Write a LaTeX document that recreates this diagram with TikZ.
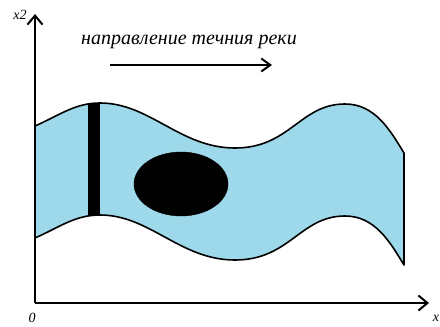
\documentclass[tikz,border=0pt]{standalone}
\usepackage{fontspec}
\setmainfont{Liberation Serif}
\usepackage{tikz}
\usetikzlibrary{arrows.meta,shapes.geometric}
\definecolor{riverblue}{RGB}{157,217,234}
\tikzset{
  axis/.style     = {-{Straight Barb[length=9pt,width=15pt,line width=2pt]}, line width=2pt},
  flowarrow/.style= {-{Straight Barb[length=9pt,width=13pt,line width=2pt]}, line width=2pt},
  river/.style    = {fill=riverblue, draw=black, line width=1.6pt, line join=round},
  axlab/.style    = {font=\fontsize{14}{16}\selectfont\itshape, inner sep=0pt},
  flowlab/.style  = {font=\fontsize{20}{24}\selectfont\itshape, inner sep=0pt},
  blob/.style     = {ellipse, fill=black, draw=black, minimum width=94pt,
                     minimum height=64pt, inner sep=0pt},
  dam/.style      = {rectangle, fill=black, minimum width=12pt,
                     minimum height=112pt, inner sep=0pt},
}

\begin{document}
\begin{tikzpicture}[x=1pt,y=-1pt]
\useasboundingbox (0,0) rectangle (440,327);
% river band
\draw[river] (35,126) .. controls (60,115) and (75,103) .. (100,103)
  .. controls (150,103) and (180,148) .. (235,148)
  .. controls (290,148) and (300,104) .. (345,104)
  .. controls (375,104) and (390,130) .. (404,153)
  -- (404,265)
  .. controls (390,242) and (375,216) .. (345,216)
  .. controls (300,216) and (290,260) .. (235,260)
  .. controls (180,260) and (150,215) .. (100,215)
  .. controls (75,215) and (60,227) .. (35,238) -- cycle;
\node[dam]  (barrier)  at (94,159) {};
\node[blob] (obstacle) at (181,184) {};
% axes
\coordinate (O)    at (35,303);
\coordinate (ytip) at (35,14);
\coordinate (xtip) at (429,303);
\draw[axis] (O) -- (ytip);
\draw[axis] (O) -- (xtip);
\node[axlab] (ylab) at (20,15)  {x2};
\node[axlab] (xlab) at (436,318) {x};
\node[axlab] (olab) at (32,318)  {0};
% flow direction
\node[flowlab] (flowtext) at (189,42) {направление течния реки};
\coordinate (fs) at (110,65);
\coordinate (fe) at (272,65);
\draw[flowarrow] (fs) -- (fe);
\end{tikzpicture}
\end{document}
